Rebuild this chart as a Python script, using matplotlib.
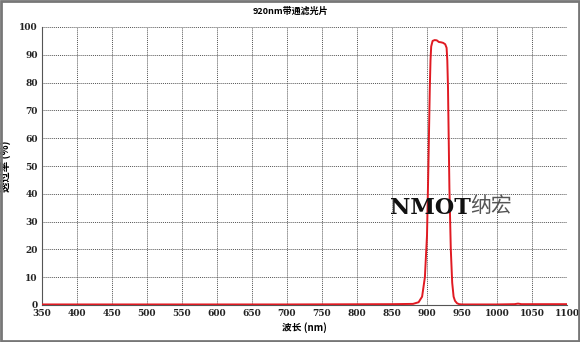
import matplotlib.pyplot as plt
from matplotlib.patches import Rectangle

plt.rcParams['font.family'] = ['Noto Sans CJK SC', 'DejaVu Sans']

wavelength = [350, 500, 700, 850, 880, 888, 893, 897, 900, 902, 904, 905, 906, 908, 911, 914,
              917, 920, 923, 926, 928, 929, 930, 931, 932, 934, 936, 938, 940, 943, 946, 950,
              1000, 1025, 1030, 1035, 1100]
transmission = [0.2, 0.2, 0.2, 0.3, 0.4, 1, 3, 10, 25, 50, 78, 88, 93, 95, 95.3, 95.2,
                94.6, 94.5, 94.3, 93.8, 92.5, 88, 78, 60, 42, 20, 8, 3, 1.5, 0.6, 0.3, 0.2,
                0.2, 0.3, 0.5, 0.3, 0.3]
x_ticks = list(range(350, 1101, 50))
y_ticks = list(range(0, 101, 10))

fig = plt.figure(figsize=(5.8, 3.42), dpi=100)
ax = fig.add_axes([42 / 580, 37 / 342, 525 / 580, 278 / 342])

ax.plot(wavelength, transmission, color="#e01a22", linewidth=1.4, zorder=3)

ax.set_xlim(350, 1100)
ax.set_ylim(0, 100)
ax.set_xticks(x_ticks)
ax.set_yticks(y_ticks)
tick_font = dict(family="DejaVu Serif", fontsize=6.5, fontweight="bold")
ax.set_xticklabels([str(v) for v in x_ticks], **tick_font)
ax.set_yticklabels([str(v) for v in y_ticks], **tick_font)
ax.tick_params(length=0, pad=3, colors="#222222")
ax.grid(True, linestyle=(0, (1, 1)), color="#555555", linewidth=0.7)
for side in ["top", "right"]:
    ax.spines[side].set_visible(False)
ax.spines["left"].set_color("#555555")
ax.spines["bottom"].set_color("#555555")

ax.set_xlabel("波长 (nm)", fontsize=7, fontweight="bold", labelpad=3)
ax.set_ylabel("透过率 (%)", fontsize=7.5, fontweight="bold", labelpad=6)
fig.text(0.5, 0.968, "920nm带通滤光片", ha="center", va="center", fontsize=6.5, fontweight="bold")

ax.text(847, 35, "NMOT", fontsize=16, fontweight="heavy", family="DejaVu Serif",
        color="#111111", va="center", ha="left")
ax.text(962, 35.5, "纳宏", fontsize=15, family="Noto Sans CJK SC", fontweight="light",
        color="#555555", va="center", ha="left")

fig.patches.append(Rectangle((0.002, 0.003), 0.996, 0.994, transform=fig.transFigure,
                             fill=False, edgecolor="#777777", linewidth=2))

fig.savefig("out.png", dpi=100)
